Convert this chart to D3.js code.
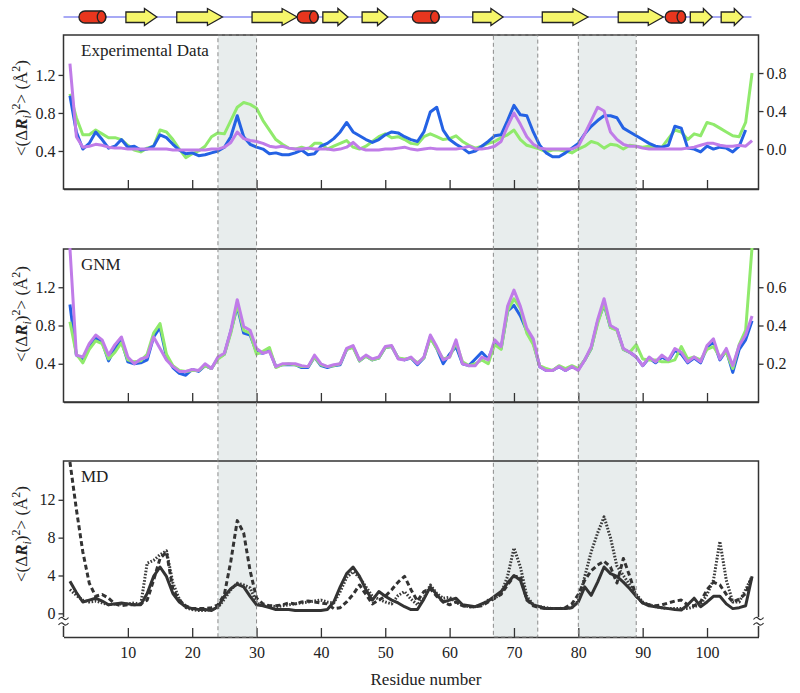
<!DOCTYPE html>
<html>
<head>
<meta charset="utf-8">
<script src="https://cdn.jsdelivr.net/npm/d3@7"></script>
<style>
  body { margin: 0; background: #fff; }
  svg text { font-family: "Liberation Serif", "Times New Roman", serif !important; fill: #222; }
</style>
</head>
<body>
<svg id="chart" width="800" height="693"></svg>
<script>
// secondary structure (residue ranges)
const helices = [[2.4, 6.6], [36.3, 39.6], [54.2, 58.4], [93.5, 96.7]];
const strands = [[9.7, 14.5], [17.6, 24.7], [29.3, 36.3], [40.3, 44.2], [46.4, 50.4],
  [63.6, 68.3], [74.4, 81.5], [86.2, 93.2], [97.4, 100.8], [102.2, 105.6]];
const chainRange = [0, 106.9];

// highlighted regions
const bands = [[24, 30], [66.8, 73.7], [80, 89]];

const xTicks = [10, 20, 30, 40, 50, 60, 70, 80, 90, 100];

// experimental data (left-axis units)
const expBlue = [0.98, 0.60, 0.42, 0.48, 0.60, 0.52, 0.43, 0.45, 0.52, 0.44,
  0.45, 0.41, 0.42, 0.45, 0.57, 0.54, 0.47, 0.41, 0.37, 0.38,
  0.35, 0.36, 0.38, 0.40, 0.44, 0.55, 0.77, 0.55, 0.47, 0.44,
  0.42, 0.37, 0.38, 0.36, 0.36, 0.38, 0.41, 0.36, 0.37, 0.45,
  0.48, 0.53, 0.60, 0.70, 0.60, 0.56, 0.52, 0.49, 0.52, 0.57,
  0.60, 0.59, 0.55, 0.52, 0.50, 0.60, 0.81, 0.86, 0.62, 0.52,
  0.47, 0.43, 0.38, 0.40, 0.45, 0.50, 0.56, 0.57, 0.72, 0.88,
  0.78, 0.77, 0.60, 0.46, 0.38, 0.34, 0.34, 0.38, 0.43, 0.48,
  0.58, 0.66, 0.72, 0.77, 0.77, 0.75, 0.64, 0.60, 0.56, 0.52,
  0.48, 0.45, 0.44, 0.46, 0.66, 0.64, 0.43, 0.42, 0.39, 0.45,
  0.42, 0.44, 0.43, 0.39, 0.45, 0.62];
const expGreen = [1.00, 0.75, 0.57, 0.57, 0.62, 0.58, 0.54, 0.54, 0.52, 0.46,
  0.41, 0.39, 0.43, 0.45, 0.62, 0.60, 0.52, 0.42, 0.33, 0.37,
  0.40, 0.45, 0.55, 0.59, 0.58, 0.72, 0.86, 0.91, 0.89, 0.85,
  0.72, 0.62, 0.52, 0.47, 0.43, 0.42, 0.44, 0.42, 0.48, 0.48,
  0.42, 0.45, 0.48, 0.51, 0.44, 0.42, 0.45, 0.50, 0.55, 0.58,
  0.54, 0.55, 0.52, 0.48, 0.47, 0.55, 0.58, 0.55, 0.52, 0.53,
  0.56, 0.50, 0.46, 0.43, 0.45, 0.48, 0.50, 0.54, 0.57, 0.62,
  0.52, 0.46, 0.44, 0.42, 0.39, 0.41, 0.41, 0.40, 0.38, 0.42,
  0.45, 0.50, 0.48, 0.43, 0.47, 0.46, 0.42, 0.46, 0.45, 0.44,
  0.45, 0.44, 0.44, 0.53, 0.62, 0.60, 0.52, 0.58, 0.56, 0.70,
  0.68, 0.64, 0.60, 0.56, 0.55, 0.70, 1.22];
const expPurple = [1.32, 0.55, 0.44, 0.45, 0.47, 0.46, 0.44, 0.43, 0.43, 0.42,
  0.42, 0.42, 0.42, 0.42, 0.42, 0.42, 0.41, 0.41, 0.41, 0.41,
  0.41, 0.41, 0.42, 0.42, 0.44, 0.49, 0.60, 0.53, 0.51, 0.50,
  0.48, 0.45, 0.44, 0.45, 0.43, 0.42, 0.42, 0.43, 0.42, 0.42,
  0.42, 0.41, 0.42, 0.44, 0.49, 0.43, 0.41, 0.41, 0.41, 0.42,
  0.42, 0.43, 0.44, 0.42, 0.41, 0.42, 0.43, 0.42, 0.42, 0.42,
  0.42, 0.43, 0.45, 0.42, 0.42, 0.43, 0.45, 0.50, 0.66, 0.80,
  0.68, 0.55, 0.47, 0.43, 0.42, 0.42, 0.42, 0.42, 0.42, 0.45,
  0.58, 0.72, 0.86, 0.82, 0.60, 0.52, 0.47, 0.45, 0.45, 0.43,
  0.42, 0.42, 0.42, 0.42, 0.42, 0.42, 0.43, 0.44, 0.46, 0.48,
  0.48, 0.46, 0.45, 0.45, 0.46, 0.45, 0.51];

// GNM (left-axis units)
const gnmBlue = [1.02, 0.49, 0.44, 0.58, 0.67, 0.63, 0.43, 0.56, 0.64, 0.42,
  0.40, 0.41, 0.44, 0.68, 0.78, 0.47, 0.36, 0.30, 0.28, 0.34,
  0.32, 0.38, 0.35, 0.46, 0.50, 0.74, 1.00, 0.72, 0.70, 0.52,
  0.51, 0.54, 0.37, 0.39, 0.39, 0.39, 0.36, 0.36, 0.47, 0.38,
  0.36, 0.38, 0.39, 0.55, 0.58, 0.43, 0.48, 0.44, 0.46, 0.57,
  0.58, 0.46, 0.44, 0.46, 0.39, 0.46, 0.68, 0.56, 0.40, 0.50,
  0.58, 0.40, 0.38, 0.45, 0.52, 0.45, 0.62, 0.56, 0.95, 1.01,
  0.90, 0.74, 0.62, 0.37, 0.33, 0.33, 0.37, 0.33, 0.37, 0.34,
  0.44, 0.56, 0.84, 1.02, 0.78, 0.76, 0.55, 0.52, 0.47, 0.38,
  0.46, 0.41, 0.47, 0.43, 0.54, 0.50, 0.41, 0.46, 0.41, 0.57,
  0.63, 0.44, 0.54, 0.31, 0.55, 0.65, 0.85];
const gnmGreen = [0.84, 0.50, 0.41, 0.55, 0.64, 0.61, 0.45, 0.52, 0.62, 0.44,
  0.42, 0.43, 0.50, 0.72, 0.82, 0.50, 0.38, 0.33, 0.32, 0.33,
  0.33, 0.38, 0.35, 0.45, 0.50, 0.72, 1.02, 0.75, 0.72, 0.50,
  0.53, 0.57, 0.36, 0.39, 0.40, 0.39, 0.37, 0.37, 0.47, 0.39,
  0.37, 0.38, 0.40, 0.55, 0.57, 0.43, 0.48, 0.44, 0.46, 0.57,
  0.58, 0.46, 0.45, 0.46, 0.41, 0.46, 0.67, 0.56, 0.45, 0.47,
  0.62, 0.42, 0.38, 0.40, 0.44, 0.40, 0.60, 0.55, 0.95, 1.08,
  0.98, 0.72, 0.60, 0.38, 0.35, 0.33, 0.38, 0.35, 0.38, 0.35,
  0.44, 0.56, 0.82, 1.03, 0.78, 0.75, 0.55, 0.52, 0.60, 0.45,
  0.44, 0.44, 0.42, 0.42, 0.44, 0.58, 0.45, 0.47, 0.44, 0.55,
  0.58, 0.47, 0.52, 0.35, 0.60, 0.75, 1.62];
const gnmPurple = [1.61, 0.49, 0.47, 0.61, 0.70, 0.65, 0.49, 0.60, 0.68, 0.47,
  0.40, 0.45, 0.47, 0.68, 0.56, 0.44, 0.37, 0.32, 0.32, 0.34,
  0.33, 0.40, 0.35, 0.47, 0.51, 0.75, 1.07, 0.79, 0.75, 0.56,
  0.51, 0.53, 0.37, 0.40, 0.40, 0.40, 0.38, 0.37, 0.49, 0.40,
  0.37, 0.39, 0.40, 0.56, 0.59, 0.44, 0.49, 0.45, 0.47, 0.58,
  0.59, 0.45, 0.44, 0.47, 0.40, 0.47, 0.70, 0.58, 0.44, 0.47,
  0.65, 0.40, 0.38, 0.38, 0.47, 0.44, 0.65, 0.58, 1.00, 1.17,
  1.00, 0.77, 0.66, 0.37, 0.33, 0.33, 0.37, 0.33, 0.37, 0.33,
  0.44, 0.58, 0.86, 1.08, 0.80, 0.76, 0.56, 0.52, 0.47, 0.38,
  0.47, 0.42, 0.49, 0.44, 0.56, 0.52, 0.42, 0.47, 0.42, 0.59,
  0.66, 0.45, 0.56, 0.38, 0.59, 0.70, 0.90];

// MD
const mdSolid = [3.4, 2.2, 1.2, 1.4, 1.6, 1.3, 0.9, 1.0, 1.1, 1.0,
  0.9, 0.9, 2.1, 3.9, 4.9, 3.9, 2.1, 1.2, 0.7, 0.5,
  0.4, 0.4, 0.3, 0.7, 1.8, 2.6, 3.1, 2.8, 1.8, 0.9,
  0.8, 0.6, 0.4, 0.4, 0.4, 0.3, 0.3, 0.3, 0.3, 0.3,
  0.4, 1.2, 2.8, 4.2, 4.9, 3.9, 2.5, 1.4, 2.3, 1.8,
  1.4, 1.1, 0.7, 0.4, 0.4, 1.5, 2.8, 2.0, 1.2, 1.4,
  1.6, 0.9, 0.8, 0.7, 1.0, 1.3, 1.8, 2.3, 3.2, 4.0,
  3.5, 1.5, 0.9, 0.7, 0.5, 0.5, 0.5, 0.5, 0.6, 1.2,
  2.8, 1.9, 3.3, 4.9, 4.2, 3.9, 3.3, 2.6, 1.8, 1.1,
  0.8, 0.7, 0.6, 0.5, 0.4, 0.35, 0.9, 1.6, 0.7, 1.2,
  1.8, 1.8, 1.0, 0.5, 0.6, 0.8, 3.9];
const mdDashed = [16.0, 11.0, 6.5, 3.2, 1.8, 2.0, 1.6, 1.0, 0.8, 0.9,
  0.9, 1.0, 1.4, 3.5, 5.8, 6.5, 2.5, 1.4, 0.8, 0.5,
  0.5, 0.5, 0.6, 0.9, 2.0, 5.5, 9.8, 8.5, 4.5, 1.6,
  1.0, 0.8, 0.8, 0.9, 1.1, 1.0, 1.2, 1.3, 1.2, 1.1,
  1.0, 0.5, 0.6, 1.2, 2.0, 3.0, 2.0, 1.0, 1.4, 1.8,
  2.5, 3.3, 3.9, 2.5, 1.3, 2.3, 2.6, 1.8, 1.2, 0.9,
  1.2, 0.8, 0.7, 0.7, 0.8, 1.2, 1.6, 2.0, 3.0, 3.9,
  3.9, 1.4, 0.8, 0.6, 0.5, 0.5, 0.5, 0.6, 1.0, 2.0,
  3.5, 4.5, 5.1, 5.5, 4.9, 3.2, 5.8, 3.9, 1.8, 1.1,
  0.9, 0.8, 0.9, 1.1, 1.3, 1.4, 0.9, 0.8, 1.2, 2.5,
  3.3, 3.0, 2.0, 1.2, 1.5, 2.1, 3.9];
const mdDotted = [2.5, 1.9, 1.4, 1.2, 1.3, 1.1, 0.9, 1.0, 1.0, 1.0,
  1.1, 0.9, 5.3, 5.6, 6.2, 6.6, 3.2, 1.5, 0.6, 0.4,
  0.3, 0.3, 0.4, 0.6, 1.5, 2.5, 3.2, 3.0, 2.7, 1.1,
  0.8, 0.8, 0.7, 0.8, 0.9, 1.0, 1.1, 1.2, 1.3, 1.4,
  1.2, 1.1, 2.3, 3.8, 4.4, 3.8, 2.8, 1.8, 1.5, 1.2,
  1.0, 1.9, 2.3, 1.5, 0.9, 1.6, 3.0, 2.1, 1.6, 1.7,
  1.2, 0.8, 0.7, 0.7, 0.9, 1.4, 1.6, 2.1, 3.9, 6.9,
  4.9, 1.8, 0.9, 0.7, 0.6, 0.5, 0.5, 0.5, 0.6, 1.3,
  3.9, 6.5, 8.5, 10.2, 8.0, 5.0, 4.0, 3.0, 2.0, 1.2,
  0.9, 0.7, 0.6, 0.5, 0.5, 0.5, 0.5, 0.7, 0.9, 2.0,
  3.5, 7.6, 3.5, 1.2, 1.2, 2.5, 3.9];

const blue = "#2462e4", green = "#90ea6c", purple = "#c07ce8";
const ink = "#333";
const serif = '"Liberation Serif", "Times New Roman", serif';

const svg = d3.select("#chart");
const x = d3.scaleLinear().domain([0, 108]).range([63.5, 758.5]);

const panels = [
  { name: "exp", label: "Experimental Data", top: 35, bottom: 189, dom: [0, 1.62],
    ticks: [0.4, 0.8, 1.2], fmt: ".1f", right: [-0.42, 1.2], rticks: [0, 0.4, 0.8], titleY: 108,
    series: [
      { v: expGreen, color: green }, { v: expBlue, color: blue }, { v: expPurple, color: purple }] },
  { name: "gnm", label: "GNM", top: 249, bottom: 402, dom: [0, 1.6],
    ticks: [0.4, 0.8, 1.2], fmt: ".1f", right: [0, 0.8], rticks: [0.2, 0.4, 0.6], titleY: 314,
    series: [
      { v: gnmBlue, color: blue }, { v: gnmGreen, color: green }, { v: gnmPurple, color: purple }] },
  { name: "md", label: "MD", top: 461, bottom: 637, dom: [-2.5, 16.1],
    ticks: [0, 4, 8, 12], fmt: "d", right: null, titleY: 534,
    series: [
      { v: mdSolid, color: "#333", dash: null },
      { v: mdDotted, color: "#3a3a3a", dash: "1.6,1.6" },
      { v: mdDashed, color: "#333", dash: "5,3" }] }
];

const [x0, x1] = x.range();

// highlighted bands (fill, behind everything)
svg.append("g").selectAll("rect").data(bands).join("rect")
  .attr("x", d => x(d[0])).attr("width", d => x(d[1]) - x(d[0]))
  .attr("y", 35).attr("height", 637 - 35)
  .attr("fill", "#e8eded");

// secondary structure strip
const ss = svg.append("g");
ss.append("line")
  .attr("x1", x(chainRange[0])).attr("x2", x(chainRange[1]))
  .attr("y1", 17).attr("y2", 17)
  .attr("stroke", "#8a8cf2").attr("stroke-width", 1.5);
strands.forEach(([s, e]) => {
  const a = x(s), b = x(e), len = b - a;
  const h = b - Math.min(15, 0.4 * len);
  ss.append("path")
    .attr("d", `M${a},12 L${h},12 L${h},8.5 L${b},17 L${h},25.5 L${h},22.5 L${a},22.5 Z`)
    .attr("fill", "#f6f66a").attr("stroke", "#222").attr("stroke-width", 1.3);
});
helices.forEach(([s, e]) => {
  const a = x(s), b = x(e);
  ss.append("rect")
    .attr("x", a).attr("y", 11).attr("width", b - a).attr("height", 12)
    .attr("rx", 6).attr("ry", 6)
    .attr("fill", "#e8361e").attr("stroke", "#222").attr("stroke-width", 1.3);
  ss.append("ellipse")
    .attr("cx", b - 4.5).attr("cy", 17).attr("rx", 4.2).attr("ry", 6)
    .attr("fill", "#e8361e").attr("stroke", "#222").attr("stroke-width", 1.3);
});

function yTitle(g, cy) {
  const t = g.append("text")
    .attr("transform", `translate(27,${cy}) rotate(-90)`)
    .attr("text-anchor", "middle")
    .style("font-family", serif)
    .style("font-size", "17px");
  t.append("tspan").text("<(Δ");
  t.append("tspan").text("R").style("font-weight", "bold").style("font-style", "italic");
  t.append("tspan").text("i").style("font-style", "italic").style("font-size", "12px").attr("dy", 4);
  t.append("tspan").text(")").attr("dy", -4);
  t.append("tspan").text("2").style("font-size", "12px").attr("dy", -7);
  t.append("tspan").text("> (Å").attr("dy", 7);
  t.append("tspan").text("2").style("font-size", "12px").attr("dy", -7);
  t.append("tspan").text(")").attr("dy", 7);
}

function styleAxis(a) {
  a.attr("font-family", serif);
  a.selectAll(".tick line").attr("stroke", ink).attr("stroke-width", 1.3);
  a.selectAll("text").style("font-family", serif).style("font-size", "16px").attr("fill", "#222");
}

panels.forEach(p => {
  const g = svg.append("g");
  const y = d3.scaleLinear().domain(p.dom).range([p.bottom, p.top]);

  // frame
  if (p.name !== "md") {
    g.append("rect")
      .attr("x", x0).attr("y", p.top).attr("width", x1 - x0).attr("height", p.bottom - p.top)
      .attr("fill", "none").attr("stroke", ink).attr("stroke-width", 1.5);
  } else {
    const brk = 617;
    g.append("path")
      .attr("d", `M${x0},${brk} V${p.top} H${x1} V${brk} M${x0},${brk + 9} V${p.bottom} M${x1},${brk + 9} V${p.bottom}`)
      .attr("fill", "none").attr("stroke", ink).attr("stroke-width", 1.5);
    [x0, x1].forEach(cx => {
      [brk + 1.5, brk + 7].forEach(cy => {
        g.append("path")
          .attr("d", `M${cx - 5},${cy + 1} q2.5,-3.5 5,-1 t5,-1`)
          .attr("fill", "none").attr("stroke", ink).attr("stroke-width", 1.2);
      });
    });
  }

  // bottom axis, ticks pointing inward
  const xa = g.append("g").attr("transform", `translate(0,${p.bottom})`)
    .call(d3.axisBottom(x).tickValues(xTicks).tickSizeInner(-9).tickSizeOuter(0).tickPadding(10)
      .tickFormat(p.name === "md" ? d3.format("d") : () => ""));
  xa.select(".domain").attr("stroke", ink).attr("stroke-width", 1.5);
  styleAxis(xa);

  // left axis
  const ya = g.append("g").attr("transform", `translate(${x0},0)`)
    .call(d3.axisLeft(y).tickValues(p.ticks).tickSize(5).tickPadding(3).tickFormat(d3.format(p.fmt)));
  ya.select(".domain").remove();
  styleAxis(ya);

  // right axis
  if (p.right) {
    const yr = d3.scaleLinear().domain(p.right).range([p.bottom, p.top]);
    const ra = g.append("g").attr("transform", `translate(${x1},0)`)
      .call(d3.axisRight(yr).tickValues(p.rticks).tickSize(5).tickPadding(3).tickFormat(d3.format(".1f")));
    ra.select(".domain").remove();
    styleAxis(ra);
  }

  // panel label
  g.append("text").attr("x", 81).attr("y", p.top + 21)
    .style("font-family", serif).style("font-size", "17px").text(p.label);

  yTitle(g, p.titleY);

  // data lines
  const clipId = "clip-" + p.name;
  g.append("clipPath").attr("id", clipId).append("rect")
    .attr("x", x0).attr("y", p.top - 1).attr("width", x1 - x0).attr("height", p.bottom - p.top + 2);
  const line = d3.line().x(d => x(d.r)).y(d => y(d.v));
  const lg = g.append("g").attr("clip-path", `url(#${clipId})`);
  p.series.forEach(s => {
    lg.append("path")
      .datum(s.v.map((v, i) => ({ r: i + 1, v })))
      .attr("d", line)
      .attr("fill", "none")
      .attr("stroke", s.color)
      .attr("stroke-width", 3)
      .attr("stroke-linejoin", "round")
      .attr("stroke-dasharray", s.dash || null);
  });
});

// band outlines on top
svg.append("g").selectAll("rect").data(bands).join("rect")
  .attr("x", d => x(d[0])).attr("width", d => x(d[1]) - x(d[0]))
  .attr("y", 35).attr("height", 637 - 35)
  .attr("fill", "none").attr("stroke", "#8a8a8a").attr("stroke-width", 1)
  .attr("stroke-dasharray", "4,3");

// x-axis title
svg.append("text").attr("x", 426).attr("y", 685).attr("text-anchor", "middle")
  .style("font-family", serif).style("font-size", "17px").text("Residue number");
</script>
</body>
</html>
